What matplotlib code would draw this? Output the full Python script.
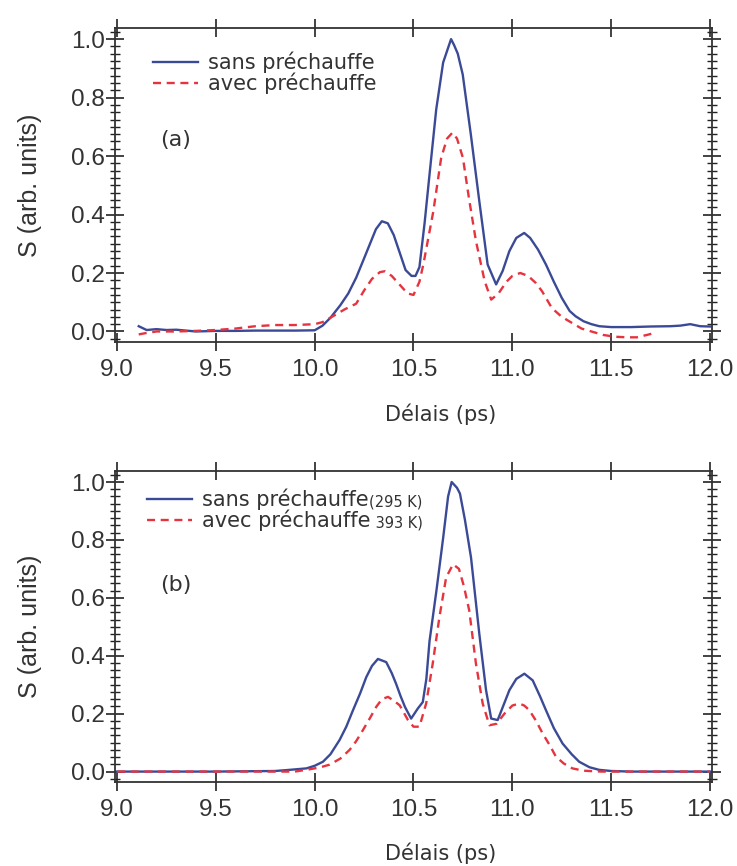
import matplotlib
matplotlib.use("Agg")
import matplotlib.pyplot as plt
from matplotlib.ticker import MultipleLocator

# panel (a) : sans / avec prechauffe
a_sans_x = [9.11, 9.15, 9.2, 9.25, 9.3, 9.4, 9.5, 9.6, 9.7, 9.8, 9.9, 10.0, 10.04, 10.08,
            10.13, 10.17, 10.21, 10.25, 10.28, 10.31, 10.34, 10.37, 10.40, 10.43, 10.46,
            10.49, 10.51, 10.53, 10.556, 10.58, 10.615, 10.65, 10.69, 10.705, 10.724,
            10.749, 10.79, 10.833, 10.875, 10.918, 10.951, 10.985, 11.02, 11.06, 11.09,
            11.13, 11.17, 11.21, 11.25, 11.29, 11.32, 11.36, 11.40, 11.44, 11.5, 11.6,
            11.7, 11.8, 11.85, 11.9, 11.95, 12.0]
a_sans_y = [0.018, 0.005, 0.008, 0.005, 0.006, 0.0, 0.002, 0.002, 0.003, 0.003, 0.003, 0.004,
            0.02, 0.047, 0.09, 0.13, 0.184, 0.25, 0.30, 0.35, 0.377, 0.37, 0.33, 0.27, 0.21,
            0.19, 0.19, 0.22, 0.37, 0.53, 0.76, 0.92, 1.0, 0.98, 0.95, 0.879, 0.674, 0.445,
            0.229, 0.161, 0.207, 0.275, 0.32, 0.337, 0.32, 0.28, 0.229, 0.17, 0.115, 0.07,
            0.052, 0.035, 0.025, 0.018, 0.015, 0.015, 0.017, 0.018, 0.02, 0.025, 0.018, 0.017]

a_avec_x = [9.11, 9.15, 9.2, 9.3, 9.4, 9.5, 9.6, 9.7, 9.8, 9.9, 10.0, 10.04, 10.1, 10.15,
            10.21, 10.25, 10.29, 10.33, 10.355, 10.39, 10.43, 10.47, 10.50, 10.53, 10.55,
            10.6, 10.64, 10.67, 10.697, 10.72, 10.75, 10.78, 10.816, 10.86, 10.893, 10.93,
            10.97, 11.0, 11.04, 11.08, 11.12, 11.15, 11.2, 11.25, 11.3, 11.35, 11.4, 11.46,
            11.52, 11.58, 11.63, 11.68, 11.72]
a_avec_y = [-0.01, -0.005, 0.0, 0.0, 0.002, 0.005, 0.01, 0.018, 0.022, 0.022, 0.025, 0.032,
            0.055, 0.075, 0.095, 0.14, 0.18, 0.203, 0.206, 0.19, 0.16, 0.13, 0.125, 0.17,
            0.23, 0.41, 0.594, 0.66, 0.68, 0.66, 0.594, 0.458, 0.309, 0.172, 0.109, 0.13,
            0.17, 0.19, 0.2, 0.19, 0.165, 0.138, 0.08, 0.05, 0.03, 0.01, 0.0, -0.012,
            -0.018, -0.02, -0.02, -0.012, -0.005]

# panel (b)
b_sans_x = [9.0, 9.5, 9.8, 9.874, 9.958, 10.0, 10.042, 10.08, 10.126, 10.16, 10.194, 10.23,
            10.261, 10.29, 10.32, 10.362, 10.39, 10.412, 10.435, 10.457, 10.488, 10.522,
            10.547, 10.565, 10.581, 10.616, 10.65, 10.675, 10.693, 10.72, 10.735, 10.76,
            10.791, 10.833, 10.867, 10.893, 10.926, 10.95, 10.985, 11.02, 11.061, 11.103,
            11.14, 11.17, 11.21, 11.254, 11.3, 11.338, 11.39, 11.439, 11.5, 11.6, 12.0]
b_sans_y = [0.0, 0.0, 0.002, 0.006, 0.011, 0.02, 0.034, 0.06, 0.109, 0.155, 0.212, 0.27,
            0.326, 0.365, 0.389, 0.378, 0.34, 0.303, 0.26, 0.223, 0.183, 0.218, 0.24, 0.32,
            0.45, 0.625, 0.807, 0.95, 1.0, 0.98, 0.96, 0.87, 0.739, 0.475, 0.281, 0.183,
            0.178, 0.22, 0.281, 0.32, 0.338, 0.315, 0.26, 0.212, 0.15, 0.097, 0.06, 0.034,
            0.015, 0.006, 0.002, 0.0, 0.0]

b_avec_x = [9.0, 9.5, 9.9, 9.975, 10.03, 10.076, 10.13, 10.177, 10.21, 10.244, 10.28, 10.311,
            10.34, 10.371, 10.40, 10.43, 10.472, 10.5, 10.53, 10.564, 10.597, 10.631, 10.665,
            10.7, 10.73, 10.755, 10.782, 10.816, 10.85, 10.884, 10.92, 10.96, 11.0, 11.035,
            11.06, 11.086, 11.12, 11.153, 11.19, 11.22, 11.26, 11.304, 11.36, 11.45, 12.0]
b_avec_y = [0.0, 0.0, 0.0, 0.008, 0.015, 0.024, 0.045, 0.075, 0.105, 0.143, 0.185, 0.223,
            0.25, 0.258, 0.245, 0.229, 0.178, 0.155, 0.155, 0.235, 0.372, 0.533, 0.67,
            0.716, 0.70, 0.64, 0.556, 0.372, 0.235, 0.16, 0.165, 0.2, 0.228, 0.235, 0.228,
            0.212, 0.175, 0.132, 0.09, 0.052, 0.028, 0.011, 0.003, 0.0, 0.0]

labels_a = ["sans préchauffe", "avec préchauffe"]
labels_b = ["sans préchauffe", "avec préchauffe"]
suffix_b = ["(295 K)", " 393 K)"]

BLUE = "#3b4a96"
RED = "#e6343f"
TEXT_FONT = ["DejaVu Sans"]
TICK_FONT = ["Liberation Sans", "DejaVu Sans"]

fig = plt.figure(figsize=(7.37, 8.66), dpi=100)
ax1 = fig.add_axes([115 / 737, 1 - 342 / 866, 597 / 737, 314 / 866])
ax2 = fig.add_axes([115 / 737, 1 - 782 / 866, 597 / 737, 311 / 866])


def style(ax):
    ax.set_xlim(8.99, 12.01)
    ax.set_ylim(-0.036, 1.038)
    ax.xaxis.set_major_locator(MultipleLocator(0.5))
    ax.yaxis.set_major_locator(MultipleLocator(0.2))
    ax.yaxis.set_minor_locator(MultipleLocator(0.025))
    ax.tick_params(axis="both", which="both", direction="inout", top=True, right=True,
                   color="#222222")
    ax.tick_params(axis="y", which="major", length=13, width=1.2, pad=1)
    ax.tick_params(axis="y", which="minor", length=7, width=1.0)
    ax.tick_params(axis="x", which="major", length=13, width=1.2, pad=6)
    for s in ax.spines.values():
        s.set_linewidth(1.3)
        s.set_color("#333333")
    for lab in ax.get_xticklabels() + ax.get_yticklabels():
        lab.set_family(TICK_FONT)
        lab.set_fontsize(17.5)
        lab.set_color("#333333")
    ax.set_ylabel("S (arb. units)", family=TICK_FONT, fontsize=18, color="#333333")
    ax.yaxis.set_label_coords(-0.122, 0.5)
    ax.set_xlabel("Délais (ps)", family=TEXT_FONT, fontsize=15, color="#333333")
    ax.xaxis.set_label_coords(0.545, -0.195)


style(ax1)
style(ax2)

ax1.plot(a_sans_x, a_sans_y, color=BLUE, lw=1.7, label=labels_a[0])
ax1.plot(a_avec_x, a_avec_y, color=RED, lw=1.7, dashes=(3.4, 2.4), label=labels_a[1])
ax2.plot(b_sans_x, b_sans_y, color=BLUE, lw=1.7, label=labels_b[0])
ax2.plot(b_avec_x, b_avec_y, color=RED, lw=1.7, dashes=(3.4, 2.4), label=labels_b[1])

legs = []
for ax, loc in ((ax1, (0.050, 0.952)), (ax2, (0.040, 0.971))):
    leg = ax.legend(loc="upper left", bbox_to_anchor=loc, frameon=False,
                    prop={"family": TEXT_FONT, "size": 15}, handlelength=2.15,
                    handletextpad=0.48, labelspacing=0.0, borderaxespad=0)
    for t in leg.get_texts():
        t.set_color("#333333")
    legs.append(leg)

ax1.text(0.075, 0.643, "(a)", transform=ax1.transAxes, family=TEXT_FONT, fontsize=16,
         color="#333333", va="center")
ax2.text(0.075, 0.633, "(b)", transform=ax2.transAxes, family=TEXT_FONT, fontsize=16,
         color="#333333", va="center")

# small temperature notes after the legend labels of (b)
fig.canvas.draw()
inv = fig.transFigure.inverted()
for t, suf in zip(legs[1].get_texts(), suffix_b):
    bb = t.get_window_extent()
    x0, y0 = inv.transform((bb.x1, (bb.y0 + bb.y1) / 2))
    fig.text(x0, y0 - 0.003, suf, family=TEXT_FONT, fontsize=10.5, color="#333333",
             va="center")

fig.savefig("out.png", dpi=100)
